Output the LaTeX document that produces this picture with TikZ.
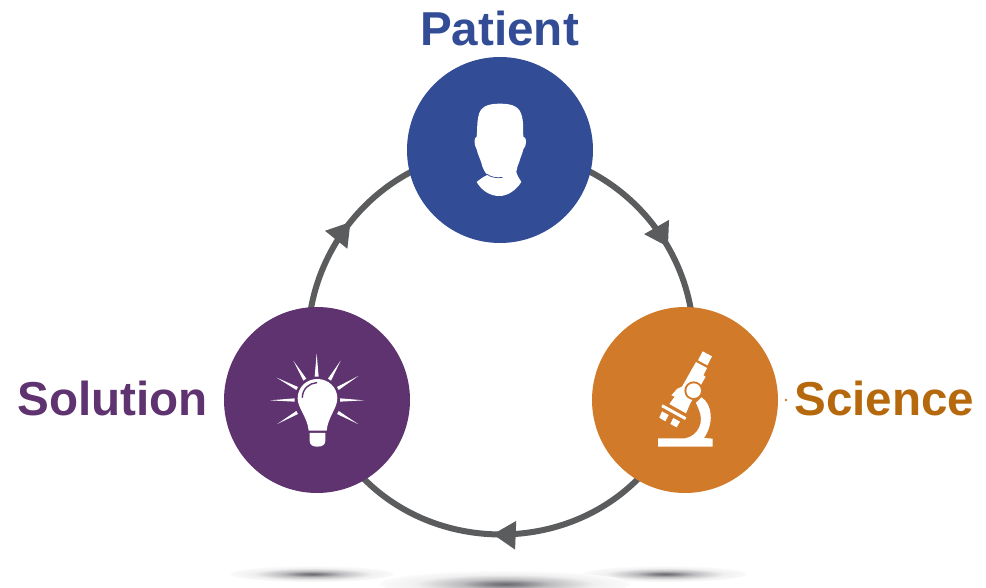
\documentclass[tikz,border=0pt]{standalone}
\usepackage{fontspec}
\setmainfont{Liberation Sans}
\usetikzlibrary{arrows.meta,decorations.markings,backgrounds}
\definecolor{cblue}{HTML}{324C96}
\definecolor{corange}{HTML}{D07A2A}
\definecolor{cpurple}{HTML}{5E3370}
\definecolor{torange}{HTML}{B5680C}
\definecolor{cgray}{HTML}{5A5C5E}
\pgfdeclareradialshading{softshadow}{\pgfpoint{0bp}{0bp}}{rgb(0bp)=(.42,.42,.44); rgb(3bp)=(.50,.50,.52); rgb(9bp)=(.74,.74,.75); rgb(18bp)=(.94,.94,.94); rgb(28bp)=(1,1,1); rgb(50bp)=(1,1,1)}
\tikzset{
  hub/.style={circle,minimum size=186pt,inner sep=0pt,fill=#1},
  caption/.style={font=\fontsize{47.6}{50}\selectfont\bfseries,anchor=base,inner sep=0pt,text=#1},
  ringarc/.style={draw=cgray,line width=6pt,
    postaction={decorate},
    decoration={markings,mark=at position #1 with {\arrow[cgray]{Triangle[length=23pt,width=27pt]}}}},
  sidebend/.style={bend left=53.75,looseness=1.07},
  basebend/.style={bend left=72.5,looseness=1.31},
  softshade/.style={shading=softshadow},
  iconpen/.style={fill=white,draw=none}
}
\begin{document}
\begin{tikzpicture}[x=1pt,y=-1pt]
\useasboundingbox (0,0) rectangle (986,588);
% ground shadows
\shade[softshade] (312,574) ellipse [x radius=82,y radius=8];
\shade[softshade] (665,574) ellipse [x radius=82,y radius=8];
\shade[softshade] (505,584) ellipse [x radius=125,y radius=13];
% hubs
\node[hub=cblue] (patient) at (500,150) {};
\node[hub=corange] (science) at (685,400) {};
\node[hub=cpurple] (solution) at (317,400) {};
% captions
\node[caption=cblue] (lpatient) at (499.5,46) {Patient};
\node[caption=torange] (lscience) at (884.5,415) {Science};
\node[caption=cpurple] (lsolution) at (112.5,415) {Solution};
% connectors, run centre to centre behind the hubs
\begin{scope}[on background layer]
\draw[ringarc=.562] (patient.center) to[sidebend] (science.center);
\draw[ringarc=.517] (science.center) to[basebend] (solution.center);
\draw[ringarc=.524] (solution.center) to[sidebend] (patient.center);
\end{scope}
% head icon
\begin{scope}[shift={(400,60)},x=.33333pt,y=-.33333pt]
\path[iconpen] (300,131) .. controls (262,131) and (240,140) .. (235,170)
  .. controls (230,195) and (232,215) .. (230,230)
  .. controls (221,232) and (222,255) .. (230,268)
  .. controls (234,285) and (240,296) .. (244,308)
  .. controls (247,322) and (253,335) .. (262,345)
  .. controls (250,350) and (240,358) .. (230,366)
  .. controls (245,392) and (270,408) .. (298,408)
  .. controls (320,408) and (345,395) .. (364,366)
  .. controls (358,355) and (350,345) .. (349,335)
  .. controls (350,325) and (354,315) .. (358,305)
  .. controls (362,290) and (367,282) .. (370,268)
  .. controls (380,258) and (382,232) .. (370,230)
  .. controls (368,212) and (372,195) .. (366,170)
  .. controls (360,140) and (338,131) .. (300,131) -- cycle;
\path[draw=cblue,line width=.7pt] (260,342) .. controls (272,352) and (290,355) .. (308,352);
\end{scope}
% microscope icon
\begin{scope}[shift={(590,310)},x=.33333pt,y=-.33333pt]
\path[iconpen] (338,124) -- (366,139) -- (352,166) -- (324,151) -- cycle;
\path[iconpen] (318,156) -- (351,174) -- (340,196) -- (347,200) -- (300,282) -- (288,310) -- (238,282) -- (254,260) -- (244,256) -- (262,236) -- (276,230) -- cycle;
\path[iconpen] (218,283) -- (289,322) -- (285,330) -- (214,291) -- cycle;
\path[iconpen] (216,304) -- (236,315) -- (226,334) -- (208,323) -- cycle;
\path[iconpen] (250,324) -- (270,335) -- (260,352) -- (241,342) -- cycle;
\path[iconpen] (335,262) .. controls (368,285) and (372,340) .. (342,384)
  -- (368,386) -- (368,410) -- (204,410) -- (204,385) -- (285,385)
  .. controls (325,378) and (345,335) .. (325,295)
  -- (318,278) -- cycle;
\path[fill=corange] (311,242) circle [radius=28];
\path[iconpen] (311,242) circle [radius=22];
\end{scope}
% bulb icon
\begin{scope}[shift={(220,310)},x=.33333pt,y=-.33333pt]
\path[iconpen] (292,207) .. controls (258,207) and (233,233) .. (233,265)
  .. controls (233,295) and (262,320) .. (266,362)
  -- (320,362) .. controls (324,320) and (352,295) .. (352,265)
  .. controls (352,233) and (326,207) .. (292,207) -- cycle;
\path[iconpen] (269,369) -- (316,369) -- (316,392) .. controls (316,405) and (306,410) .. (292,410)
  .. controls (278,410) and (269,405) .. (269,392) -- cycle;
\path[draw=cpurple,line width=1.4pt,line cap=round] (247,262) .. controls (248,235) and (268,220) .. (290,218);
\path[iconpen] (290,130) -- (296,200) -- (284,200) -- cycle;
\path[iconpen] (220,152) -- (259,206) -- (250,212) -- cycle;
\path[iconpen] (362,152) -- (333,212) -- (324,206) -- cycle;
\path[iconpen] (170,203) -- (234,231) -- (229,240) -- cycle;
\path[iconpen] (415,198) -- (356,240) -- (351,231) -- cycle;
\path[iconpen] (150,271) -- (224,265) -- (224,275) -- cycle;
\path[iconpen] (432,271) -- (360,265) -- (360,275) -- cycle;
\path[iconpen] (172,342) -- (229,303) -- (234,312) -- cycle;
\path[iconpen] (414,342) -- (351,312) -- (356,303) -- cycle;
\end{scope}
% stray speck beside Science
\path[fill=corange] (786,400) circle [radius=1.3];
\end{tikzpicture}
\end{document}
